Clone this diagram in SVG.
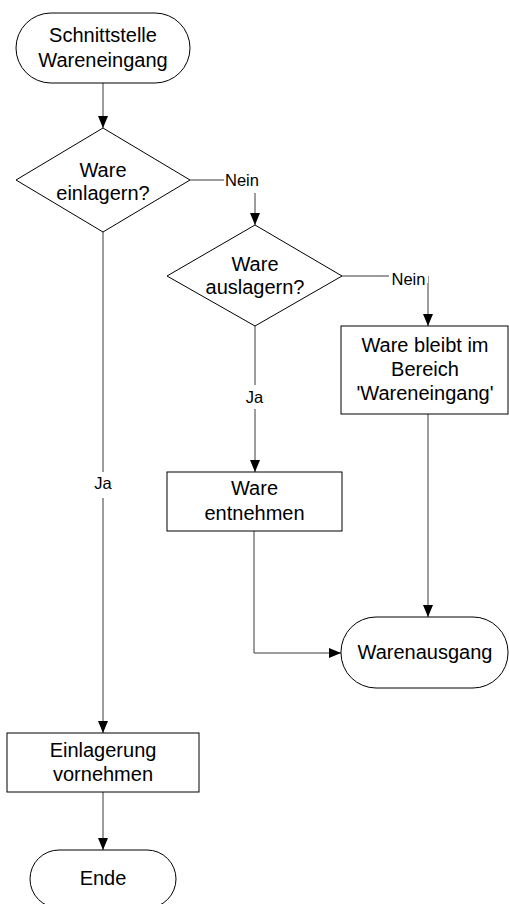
<svg xmlns="http://www.w3.org/2000/svg" width="509" height="904" viewBox="0 0 509 904">
  <style>
    .shape { fill: #ffffff; stroke: #000000; stroke-width: 1; }
    .txt { font-family: "Liberation Sans", Arial, sans-serif; font-size: 20px; fill: #000000; text-anchor: middle; }
    .lbl { font-family: "Liberation Sans", Arial, sans-serif; font-size: 16.5px; fill: #000000; text-anchor: middle; }
    .conn { fill: none; stroke: #3a3a3a; stroke-width: 1; }
    .mask { fill: #ffffff; stroke: none; }
  </style>
  <defs>
    <marker id="arrow" markerUnits="userSpaceOnUse" markerWidth="12" markerHeight="10" refX="12" refY="5" orient="auto">
      <path d="M0,0 L12,5 L0,10 z" fill="#000000"/>
    </marker>
  </defs>
  <rect width="509" height="904" fill="#ffffff"/>

  <!-- connectors -->
  <g id="connectors">
    <path class="conn" d="M103,83 V128" marker-end="url(#arrow)"/>
    <path class="conn" d="M190,180 H255 V225" marker-end="url(#arrow)"/>
    <path class="conn" d="M342,276 H428 V326" marker-end="url(#arrow)"/>
    <path class="conn" d="M428,414 V617" marker-end="url(#arrow)"/>
    <path class="conn" d="M255,326 V472" marker-end="url(#arrow)"/>
    <path class="conn" d="M254,531 V653 H341" marker-end="url(#arrow)"/>
    <path class="conn" d="M103,232 V733" marker-end="url(#arrow)"/>
    <path class="conn" d="M103,792 V850" marker-end="url(#arrow)"/>

    <!-- connector labels -->
    <rect class="mask" x="224" y="170" width="37" height="23"/>
    <text class="lbl" x="242" y="186">Nein</text>
    <rect class="mask" x="389" y="268" width="39" height="15"/>
    <text class="lbl" x="408.5" y="285">Nein</text>
    <rect class="mask" x="244" y="385" width="22" height="24"/>
    <text class="lbl" x="254.5" y="403">Ja</text>
    <rect class="mask" x="92" y="472" width="22" height="26"/>
    <text class="lbl" x="103" y="489">Ja</text>
  </g>

  <!-- nodes -->
  <g id="start">
    <rect class="shape" x="16" y="13" width="174" height="70" rx="35" ry="35"/>
    <text class="txt" x="103" y="42">Schnittstelle</text>
    <text class="txt" x="103" y="67">Wareneingang</text>
  </g>

  <g id="decision-einlagern">
    <polygon class="shape" points="103,128 190,180 103,232 16,180"/>
    <text class="txt" x="103" y="177">Ware</text>
    <text class="txt" x="103" y="200">einlagern?</text>
  </g>

  <g id="decision-auslagern">
    <polygon class="shape" points="255,225 342,276 255,326 167,276"/>
    <text class="txt" x="255" y="271">Ware</text>
    <text class="txt" x="255" y="294">auslagern?</text>
  </g>

  <g id="ware-bleibt">
    <rect class="shape" x="341" y="326" width="167" height="88"/>
    <text class="txt" x="425" y="352">Ware bleibt im</text>
    <text class="txt" x="425" y="376">Bereich</text>
    <text class="txt" x="425" y="400">'Wareneingang'</text>
  </g>

  <g id="ware-entnehmen">
    <rect class="shape" x="167" y="472" width="175" height="59"/>
    <text class="txt" x="254.5" y="495">Ware</text>
    <text class="txt" x="254.5" y="520">entnehmen</text>
  </g>

  <g id="warenausgang">
    <rect class="shape" x="341" y="617" width="167" height="71" rx="35" ry="35"/>
    <text class="txt" x="425" y="659">Warenausgang</text>
  </g>

  <g id="einlagerung">
    <rect class="shape" x="7" y="733" width="192" height="59"/>
    <text class="txt" x="103" y="757">Einlagerung</text>
    <text class="txt" x="103" y="781">vornehmen</text>
  </g>

  <g id="ende">
    <rect class="shape" x="30" y="850" width="146" height="58" rx="29" ry="29"/>
    <text class="txt" x="103" y="885">Ende</text>
  </g>
</svg>
